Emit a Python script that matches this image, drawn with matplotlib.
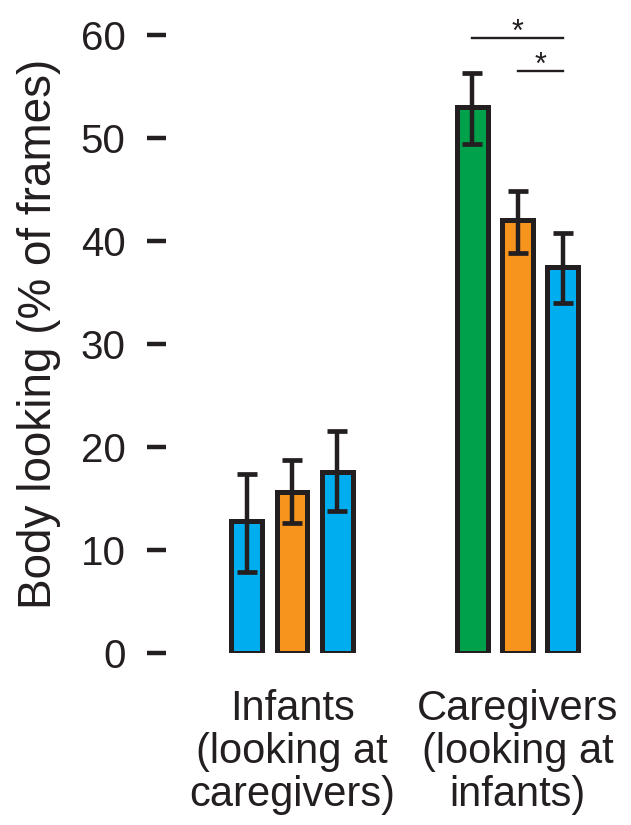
import matplotlib

matplotlib.use("Agg")
import matplotlib.pyplot as plt
import numpy as np

plt.rcParams["font.family"] = ["Liberation Sans", "DejaVu Sans"]

# data
groups = ["Infants\n(looking at\ncaregivers)", "Caregivers\n(looking at\ninfants)"]
infant_means = [12.85, 15.6, 17.6]
infant_lo = [7.9, 12.65, 13.8]
infant_hi = [17.4, 18.7, 21.55]
infant_colors = ["#00AEEF", "#F7941D", "#00AEEF"]
caregiver_means = [53.0, 42.0, 37.5]
caregiver_lo = [49.4, 38.8, 34.0]
caregiver_hi = [56.3, 44.85, 40.75]
caregiver_colors = ["#00A14B", "#F7941D", "#00AEEF"]
# significance brackets: (first bar, last bar) within caregivers
sig_pairs = [(0, 2), (1, 2)]
sig_heights = [59.7, 56.5]
yticks = [0, 10, 20, 30, 40, 50, 60]

DARK = "#231F20"
offsets = np.array([-0.2, 0.0, 0.2])
width = 0.137

fig = plt.figure(figsize=(6.31, 8.25), dpi=100)
ax = fig.add_axes([0.263, 0.2085, 0.737, 0.7745])

for gi, (means, lo, hi, cols) in enumerate(
    [
        (infant_means, infant_lo, infant_hi, infant_colors),
        (caregiver_means, caregiver_lo, caregiver_hi, caregiver_colors),
    ]
):
    xs = gi + offsets
    means = np.array(means)
    ax.bar(xs, means, width=width, color=cols, edgecolor=DARK, linewidth=3.6,
           zorder=2)
    yerr = np.vstack([means - np.array(lo), np.array(hi) - means])
    ax.errorbar(xs, means, yerr=yerr, fmt="none", ecolor=DARK, elinewidth=3.2,
                capsize=7, capthick=3.4, zorder=3)

for (a, b), h in zip(sig_pairs, sig_heights):
    x0, x1 = 1 + offsets[a], 1 + offsets[b]
    ax.plot([x0, x1], [h, h], color=DARK, lw=1.7, clip_on=False)
    ax.text((x0 + x1) / 2, h - 0.95, "*", ha="center", va="bottom",
            fontsize=22, color=DARK)

ax.set_xlim(-0.559, 1.503)
ax.set_ylim(0, 62)
ax.set_yticks(yticks)
ax.set_xticks([0, 1], groups)
for s in ax.spines.values():
    s.set_visible(False)
ax.tick_params(axis="y", direction="out", length=14, width=3.2, pad=15,
               labelsize=29, color=DARK, labelcolor=DARK)
for t in ax.yaxis.get_ticklines():
    t.set_solid_capstyle("round")
ax.tick_params(axis="x", length=0, pad=26, labelsize=30, labelcolor=DARK)
for lab in ax.get_xticklabels():
    lab.set_linespacing(1.1)
ax.set_ylabel("Body looking (% of frames)", fontsize=33, color=DARK, labelpad=14)

fig.savefig("out.png", dpi=100)
